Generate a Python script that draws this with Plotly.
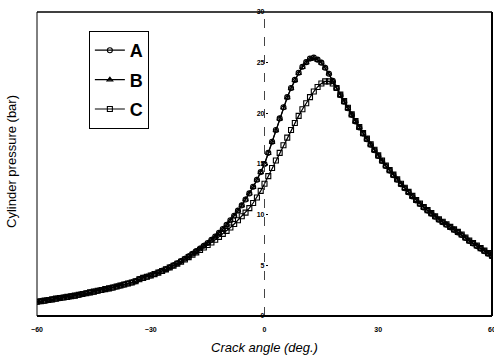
import plotly.graph_objects as go

crank_angle = list(range(-60, 61))

pressure_A = [
    1.40, 1.45, 1.51, 1.57, 1.63, 1.70, 1.76, 1.82, 1.88, 1.94,
    2.00, 2.08, 2.16, 2.24, 2.32, 2.40, 2.48, 2.56, 2.64, 2.72,
    2.80, 2.90, 3.00, 3.10, 3.20, 3.30, 3.42, 3.65, 3.78, 3.88,
    4.00, 4.15, 4.30, 4.46, 4.62, 4.80, 5.00, 5.20, 5.42, 5.65,
    5.90, 6.15, 6.40, 6.66, 6.93, 7.20, 7.52, 7.85, 8.20, 8.58,
    9.00, 9.45, 9.90, 10.40, 10.92, 11.50, 12.10, 12.75, 13.45, 14.20,
    15.00, 16.10, 17.20, 18.35, 19.50, 20.60, 21.60, 22.50, 23.30, 24.00,
    24.60, 25.05, 25.40, 25.50, 25.30, 25.00, 24.50, 23.90, 23.20, 22.50,
    21.80, 21.15, 20.50, 19.85, 19.20, 18.60, 18.00, 17.45, 16.90, 16.35,
    15.80, 15.30, 14.80, 14.35, 13.90, 13.45, 13.00, 12.60, 12.20, 11.80,
    11.40, 11.05, 10.70, 10.40, 10.10, 9.80, 9.50, 9.25, 9.00, 8.75,
    8.50, 8.25, 8.00, 7.70, 7.40, 7.15, 6.90, 6.65, 6.40, 6.15,
    5.90,
]

pressure_B = [
    1.40, 1.46, 1.51, 1.57, 1.64, 1.70, 1.76, 1.82, 1.89, 1.95,
    2.01, 2.08, 2.16, 2.24, 2.33, 2.41, 2.48, 2.56, 2.65, 2.73,
    2.81, 2.90, 3.00, 3.11, 3.21, 3.31, 3.43, 3.64, 3.77, 3.88,
    4.01, 4.15, 4.31, 4.47, 4.63, 4.80, 4.99, 5.19, 5.41, 5.64,
    5.88, 6.13, 6.38, 6.64, 6.91, 7.18, 7.50, 7.83, 8.18, 8.56,
    8.97, 9.42, 9.87, 10.37, 10.89, 11.47, 12.07, 12.72, 13.42, 14.17,
    14.97, 16.06, 17.16, 18.30, 19.45, 20.55, 21.55, 22.45, 23.25, 23.95,
    24.55, 25.00, 25.33, 25.42, 25.25, 24.97, 24.48, 23.90, 23.20, 22.50,
    21.80, 21.15, 20.50, 19.85, 19.21, 18.61, 18.01, 17.46, 16.91, 16.36,
    15.81, 15.31, 14.81, 14.36, 13.91, 13.46, 13.01, 12.61, 12.21, 11.81,
    11.41, 11.06, 10.71, 10.41, 10.11, 9.81, 9.51, 9.26, 9.01, 8.76,
    8.51, 8.26, 8.01, 7.71, 7.41, 7.16, 6.91, 6.66, 6.41, 6.16,
    5.91,
]

pressure_C = [
    1.41, 1.46, 1.52, 1.58, 1.64, 1.71, 1.77, 1.83, 1.89, 1.95,
    2.01, 2.09, 2.17, 2.25, 2.33, 2.41, 2.49, 2.57, 2.65, 2.73,
    2.81, 2.91, 3.01, 3.11, 3.21, 3.31, 3.43, 3.63, 3.76, 3.87,
    3.99, 4.13, 4.28, 4.44, 4.60, 4.78, 4.96, 5.15, 5.36, 5.58,
    5.81, 6.04, 6.28, 6.52, 6.76, 7.01, 7.26, 7.53, 7.81, 8.10,
    8.40, 8.73, 9.08, 9.45, 9.84, 10.20, 10.65, 11.15, 11.70, 12.35,
    13.05, 13.80, 14.60, 15.35, 16.10, 16.85, 17.60, 18.35, 19.05, 19.75,
    20.40, 21.00, 21.60, 22.15, 22.60, 22.95, 23.15, 23.15, 22.95, 22.50,
    21.85, 21.20, 20.55, 19.90, 19.25, 18.65, 18.05, 17.50, 16.95, 16.40,
    15.85, 15.35, 14.85, 14.40, 13.95, 13.50, 13.05, 12.65, 12.25, 11.85,
    11.45, 11.10, 10.75, 10.45, 10.15, 9.85, 9.55, 9.30, 9.05, 8.80,
    8.55, 8.30, 8.05, 7.75, 7.45, 7.20, 6.95, 6.70, 6.45, 6.20,
    5.95,
]

series_names = ["A", "B", "C"]
x_ticks = [-60, -30, 0, 30, 60]
y_ticks = [0, 5, 10, 15, 20, 25, 30]

symbols = ["circle-open", "triangle-up-open", "square-open"]

fig = go.Figure()
for name, vals, sym in zip(series_names, [pressure_A, pressure_B, pressure_C], symbols):
    fig.add_trace(go.Scatter(
        x=crank_angle, y=vals, name=name, mode="lines+markers",
        line=dict(color="black", width=1.2),
        marker=dict(symbol=sym, size=5, color="black", line=dict(width=1.1, color="black")),
        legendgroup=name,
    ))

# invisible trace on the central y axis so it gets drawn
fig.add_trace(go.Scatter(x=[0], y=[0], yaxis="y2", mode="markers",
                         marker=dict(opacity=0), showlegend=False, hoverinfo="skip"))

fig.update_layout(
    width=494, height=358,
    margin=dict(l=37, r=2, t=12, b=42, autoexpand=False),
    paper_bgcolor="white", plot_bgcolor="white",
    font=dict(family="Arial, Liberation Sans, sans-serif", color="black"),
    showlegend=True,
    legend=dict(
        x=0.114, y=0.9375, xanchor="left", yanchor="top",
        bgcolor="white", bordercolor="black", borderwidth=1,
        font=dict(size=18, weight="bold", color="black"),
        tracegroupgap=3,
    ),
    xaxis=dict(
        range=[-60, 60], tickvals=x_ticks, ticks="outside", ticklen=7,
        tickcolor="rgba(0,0,0,0)", showgrid=False, zeroline=False, showline=False,
        tickfont=dict(size=7, weight="bold", color="black"),
        ticklabeloverflow="allow", automargin=False,
    ),
    yaxis=dict(
        range=[0, 30], showticklabels=False, ticks="", showgrid=False,
        zeroline=False, showline=False, automargin=False,
    ),
    yaxis2=dict(
        range=[0, 30], overlaying="y", anchor="free", position=0.5, side="left",
        tickvals=y_ticks, ticks="inside", ticklen=2, tickcolor="black",
        showgrid=False, zeroline=False, showline=False, automargin=False,
        tickfont=dict(size=7, weight="bold", color="black"),
    ),
    shapes=[
        dict(type="line", xref="x", yref="paper", x0=0, x1=0, y0=0, y1=1,
             line=dict(color="#444", width=1, dash="dash")),
        dict(type="line", xref="paper", yref="paper", x0=0, x1=0, y0=0, y1=1,
             line=dict(color="black", width=1)),
        dict(type="line", xref="paper", yref="paper", x0=0, x1=1, y0=1, y1=1,
             line=dict(color="black", width=1.5)),
        dict(type="line", xref="paper", yref="paper", x0=1, x1=1, y0=0, y1=1,
             line=dict(color="black", width=2)),
        dict(type="line", xref="paper", yref="paper", x0=0, x1=1, y0=0, y1=0,
             line=dict(color="black", width=2)),
    ],
    annotations=[
        dict(text="Cylinder pressure (bar)", xref="paper", yref="paper",
             x=-0.055, y=0.51, textangle=-90, showarrow=False,
             xanchor="center", yanchor="middle", font=dict(size=13)),
        dict(text="<i>Crack angle (deg.)</i>", xref="paper", yref="paper",
             x=0.5, y=-0.105, showarrow=False, xanchor="center", yanchor="middle",
             font=dict(size=13)),
    ],
)

fig.write_html("out.html", config={"displayModeBar": False},
               post_script="document.body.style.margin='0';document.body.style.padding='0';")
